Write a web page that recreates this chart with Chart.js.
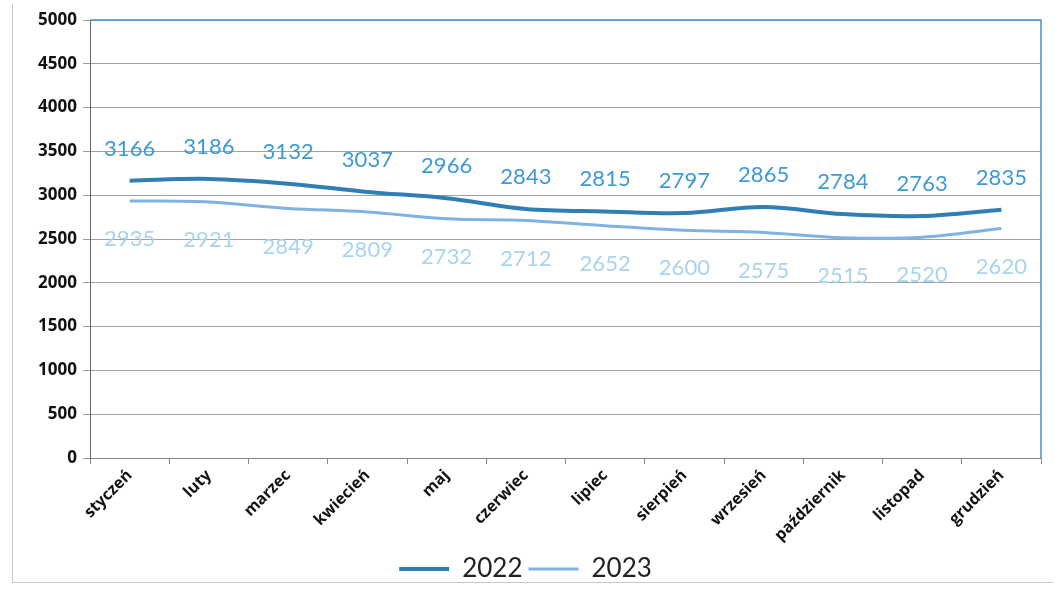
<!DOCTYPE html>
<html lang="pl">
<head>
    <meta charset="UTF-8">
    <title>2022 / 2023</title>
    <script src="https://cdn.jsdelivr.net/npm/chart.js"></script>
    <style>
        html, body { margin: 0; padding: 0; background: #fff; }
        .ramka {
            position: absolute;
            left: 12px; top: 4px;
            width: 1040px; height: 578px;
            border-left: 1px solid #c8c8c8;
            border-bottom: 1px solid #c8c8c8;
        }
        #wykres { position: absolute; left: 0; top: 0; }
    </style>
</head>
<body>
    <div class="ramka"></div>
    <canvas id="wykres" width="1055" height="596"></canvas>

    <script>
        const miesiace = ['styczeń', 'luty', 'marzec', 'kwiecień', 'maj', 'czerwiec',
            'lipiec', 'sierpień', 'wrzesień', 'październik', 'listopad', 'grudzień'];
        const dane2022 = [3166, 3186, 3132, 3037, 2966, 2843, 2815, 2797, 2865, 2784, 2763, 2835];
        const dane2023 = [2935, 2921, 2849, 2809, 2732, 2712, 2652, 2600, 2575, 2515, 2520, 2620];

        // etykiety wartosci nad / pod punktami
        const etykiety = {
            id: 'etykiety',
            afterDatasetsDraw(chart) {
                const ctx = chart.ctx;
                ctx.save();
                ctx.font = '22px Lato, "Open Sans", sans-serif';
                ctx.textAlign = 'center';
                ctx.textBaseline = 'middle';
                chart.data.datasets.forEach((ds, i) => {
                    const meta = chart.getDatasetMeta(i);
                    ctx.fillStyle = i === 0 ? '#3d9ad6' : '#a9d3ef';
                    meta.data.forEach((pt, j) => {
                        const dy = i === 0 ? -32 : 38;
                        ctx.fillText(ds.data[j], pt.x, pt.y + dy);
                    });
                });
                ctx.restore();
            }
        };

        const ramkaWykresu = {
            id: 'ramkaWykresu',
            afterDraw(chart) {
                const a = chart.chartArea;
                const ctx = chart.ctx;
                ctx.save();
                ctx.strokeStyle = '#4a90c8';
                ctx.lineWidth = 1.5;
                ctx.beginPath();
                ctx.moveTo(a.left, a.top);
                ctx.lineTo(a.right, a.top);
                ctx.lineTo(a.right, a.bottom);
                ctx.stroke();
                ctx.restore();
            }
        };

        const ctx = document.getElementById('wykres').getContext('2d');
        new Chart(ctx, {
            type: 'line',
            data: {
                labels: miesiace,
                datasets: [{
                    label: '2022',
                    data: dane2022,
                    borderColor: '#2f7fb5',
                    backgroundColor: '#2f7fb5',
                    borderWidth: 4,
                    pointRadius: 0,
                    tension: 0.35
                }, {
                    label: '2023',
                    data: dane2023,
                    borderColor: '#7fb3e0',
                    backgroundColor: '#7fb3e0',
                    borderWidth: 3,
                    pointRadius: 0,
                    tension: 0.35
                }]
            },
            options: {
                responsive: false,
                animation: false,
                layout: { padding: { left: 10, right: 14, top: 20, bottom: 4 } },
                plugins: {
                    legend: {
                        position: 'bottom',
                        labels: {
                            usePointStyle: true,
                            pointStyle: 'line',
                            pointStyleWidth: 50,
                            boxWidth: 50,
                            color: '#222',
                            padding: 6,
                            font: { family: 'Lato, "Open Sans", sans-serif', size: 26 }
                        }
                    },
                    tooltip: { enabled: false }
                },
                scales: {
                    x: {
                        offset: true,
                        grid: {
                            offset: true,
                            drawOnChartArea: false,
                            tickLength: 6,
                            color: '#888'
                        },
                        border: { color: '#888' },
                        ticks: {
                            maxRotation: 45,
                            minRotation: 45,
                            color: '#111',
                            padding: 2,
                            font: { family: '"Open Sans", sans-serif', size: 16, weight: 'bold' }
                        },
                        afterFit(s) { s.height = 92; }
                    },
                    y: {
                        min: 0,
                        max: 5000,
                        ticks: {
                            stepSize: 500,
                            color: '#111',
                            padding: 6,
                            callback: v => String(v),
                            font: { family: '"Open Sans", sans-serif', size: 17, weight: 'bold' }
                        },
                        grid: { color: '#a0a0a0', tickLength: 7 },
                        border: { color: '#666' },
                        afterFit(s) { s.width = 80; }
                    }
                }
            },
            plugins: [etykiety, ramkaWykresu]
        });
    </script>
</body>
</html>
